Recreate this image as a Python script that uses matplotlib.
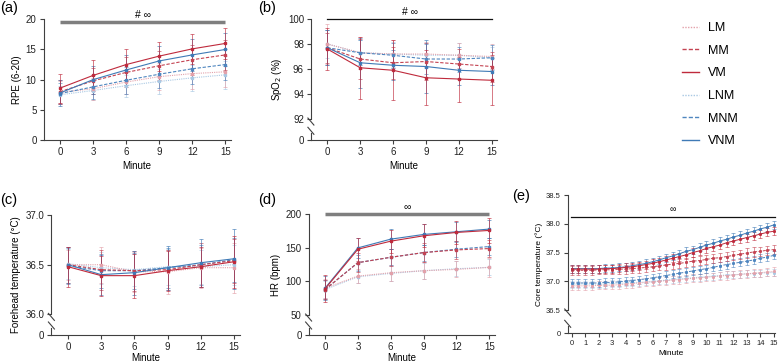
import numpy as np
import matplotlib
matplotlib.use("Agg")
import matplotlib.pyplot as plt
from matplotlib.lines import Line2D

plt.rcParams['font.family'] = ['Liberation Sans', 'DejaVu Sans']

# ---------------- data ----------------
groups = ["LM", "MM", "VM", "LNM", "MNM", "VNM"]
minutes = [0, 3, 6, 9, 12, 15]

rpe_mean = {
    "LM":  [7.9, 8.5, 9.6, 10.5, 11.0, 11.3],
    "MM":  [8.0, 9.8, 11.2, 12.3, 13.3, 14.1],
    "VM":  [8.6, 10.7, 12.5, 13.9, 15.1, 16.0],
    "LNM": [7.5, 8.2, 9.0, 9.7, 10.3, 10.8],
    "MNM": [7.7, 8.8, 9.9, 10.9, 11.8, 12.5],
    "VNM": [7.8, 10.0, 11.6, 13.1, 14.1, 15.0],
}
rpe_sd = {
    "LM":  [1.8, 1.8, 2.0, 2.2, 2.5, 2.6],
    "MM":  [2.0, 2.2, 2.5, 2.4, 2.5, 2.5],
    "VM":  [2.4, 2.5, 2.6, 2.4, 2.5, 2.5],
    "LNM": [1.5, 1.6, 1.8, 2.0, 2.2, 2.3],
    "MNM": [1.8, 2.0, 2.2, 2.3, 2.5, 2.5],
    "VNM": [2.2, 2.3, 2.5, 2.5, 2.7, 2.8],
}

spo2_mean = {
    "LM":  [98.0, 97.3, 97.2, 97.2, 97.1, 97.0],
    "MM":  [97.7, 96.8, 96.5, 96.6, 96.4, 96.2],
    "VM":  [97.6, 96.1, 95.9, 95.3, 95.2, 95.1],
    "LNM": [98.0, 97.3, 97.2, 97.1, 97.1, 96.9],
    "MNM": [97.7, 97.3, 97.1, 96.8, 96.8, 96.9],
    "VNM": [97.7, 96.5, 96.3, 96.2, 95.9, 95.8],
}
spo2_sd = {
    "LM":  [1.6, 1.3, 1.1, 1.0, 1.0, 1.0],
    "MM":  [1.2, 1.6, 1.3, 1.5, 1.2, 1.2],
    "VM":  [1.7, 2.5, 2.4, 2.2, 1.8, 2.0],
    "LNM": [1.1, 1.0, 1.0, 1.0, 1.0, 0.9],
    "MNM": [1.4, 1.0, 1.0, 1.2, 1.0, 1.0],
    "VNM": [1.4, 2.0, 1.2, 2.1, 1.2, 1.1],
}

fore_mean = {
    "LM":  [36.50, 36.50, 36.43, 36.43, 36.47, 36.47],
    "MM":  [36.50, 36.45, 36.44, 36.45, 36.50, 36.54],
    "VM":  [36.48, 36.39, 36.39, 36.44, 36.48, 36.53],
    "LNM": [36.51, 36.47, 36.45, 36.48, 36.48, 36.50],
    "MNM": [36.49, 36.44, 36.44, 36.47, 36.50, 36.55],
    "VNM": [36.50, 36.40, 36.42, 36.47, 36.52, 36.56],
}
fore_sd = {
    "LM":  [0.15, 0.18, 0.20, 0.22, 0.20, 0.25],
    "MM":  [0.18, 0.20, 0.20, 0.20, 0.22, 0.22],
    "VM":  [0.20, 0.20, 0.22, 0.20, 0.20, 0.26],
    "LNM": [0.15, 0.16, 0.16, 0.18, 0.17, 0.20],
    "MNM": [0.18, 0.17, 0.18, 0.20, 0.20, 0.22],
    "VNM": [0.18, 0.20, 0.22, 0.22, 0.24, 0.30],
}

hr_mean = {
    "LM":  [90, 108, 113, 116, 118, 121],
    "MM":  [88, 128, 136, 143, 147, 149],
    "VM":  [89, 148, 160, 168, 173, 176],
    "LNM": [88, 107, 112, 116, 119, 121],
    "MNM": [88, 128, 136, 143, 148, 152],
    "VNM": [90, 150, 163, 170, 174, 178],
}
hr_sd = {
    "LM":  [14, 11, 12, 13, 12, 14],
    "MM":  [14, 14, 13, 14, 13, 12],
    "VM":  [20, 17, 17, 17, 17, 18],
    "LNM": [12, 10, 11, 12, 11, 12],
    "MNM": [14, 12, 12, 12, 12, 12],
    "VNM": [18, 15, 15, 15, 15, 14],
}

core_minutes = [0, 0.5, 1, 1.5, 2, 2.5, 3, 3.5, 4, 4.5, 5, 5.5, 6, 6.5, 7, 7.5,
                8, 8.5, 9, 9.5, 10, 10.5, 11, 11.5, 12, 12.5, 13, 13.5, 14, 14.5, 15]
core_mean = {
    "LM":  [36.92, 36.92, 36.92, 36.92, 36.93, 36.93, 36.93, 36.94, 36.95, 36.96, 36.97,
            36.98, 36.99, 37.00, 37.01, 37.02, 37.03, 37.04, 37.05, 37.06, 37.07, 37.08,
            37.09, 37.10, 37.11, 37.12, 37.13, 37.14, 37.15, 37.16, 37.17],
    "MM":  [37.19, 37.19, 37.19, 37.19, 37.20, 37.20, 37.20, 37.21, 37.21, 37.22, 37.23,
            37.24, 37.25, 37.27, 37.28, 37.30, 37.31, 37.33, 37.35, 37.36, 37.38, 37.40,
            37.41, 37.43, 37.45, 37.47, 37.49, 37.51, 37.52, 37.54, 37.55],
    "VM":  [37.21, 37.21, 37.21, 37.21, 37.21, 37.22, 37.22, 37.23, 37.24, 37.25, 37.27,
            37.29, 37.31, 37.34, 37.37, 37.40, 37.43, 37.46, 37.50, 37.53, 37.57, 37.60,
            37.63, 37.67, 37.70, 37.73, 37.76, 37.79, 37.82, 37.85, 37.87],
    "LNM": [36.95, 36.95, 36.95, 36.95, 36.95, 36.95, 36.96, 36.96, 36.97, 36.98, 36.98,
            36.99, 37.00, 37.01, 37.02, 37.03, 37.04, 37.05, 37.06, 37.07, 37.08, 37.09,
            37.10, 37.11, 37.11, 37.12, 37.13, 37.13, 37.14, 37.15, 37.15],
    "MNM": [36.97, 36.97, 36.97, 36.97, 36.97, 36.98, 36.98, 36.99, 37.00, 37.01, 37.03,
            37.04, 37.06, 37.08, 37.10, 37.12, 37.14, 37.16, 37.18, 37.20, 37.22, 37.24,
            37.27, 37.29, 37.31, 37.33, 37.35, 37.37, 37.40, 37.42, 37.45],
    "VNM": [37.22, 37.22, 37.22, 37.22, 37.22, 37.23, 37.23, 37.24, 37.25, 37.27, 37.29,
            37.31, 37.34, 37.37, 37.41, 37.44, 37.48, 37.52, 37.55, 37.59, 37.63, 37.66,
            37.70, 37.73, 37.77, 37.80, 37.84, 37.87, 37.91, 37.94, 37.98],
}
core_sd = {"LM": 0.07, "MM": 0.08, "VM": 0.07, "LNM": 0.06, "MNM": 0.07, "VNM": 0.07}

# ---------------- styles ----------------
colors = {"LM": "#e3a1aa", "MM": "#c44352", "VM": "#bf2a3c",
          "LNM": "#a9c8e3", "MNM": "#4f86bf", "VNM": "#3f7ab6"}
styles = {"LM": (0, (1, 1)), "MM": (0, (3, 1.5)), "VM": "-",
          "LNM": (0, (1, 1)), "MNM": (0, (3, 1.5)), "VNM": "-"}
draw_order = ["LNM", "LM", "MNM", "MM", "VNM", "VM"]
AXC = "#404040"
FS = 7

W, H = 778, 364
fig = plt.figure(figsize=(W / 100, H / 100), dpi=100)


def rect(left, top, width, bottom):
    return [left / W, (H - bottom) / H, width / W, (bottom - top) / H]


def brk(lo, g):
    def fwd(y):
        y = np.asarray(y, dtype=float)
        return np.where(y >= lo, y - lo + g, y * g / lo)

    def inv(t):
        t = np.asarray(t, dtype=float)
        return np.where(t >= g, t - g + lo, t * lo / g)
    return fwd, inv


def style_ax(ax, fs=FS):
    for s in ["top", "right"]:
        ax.spines[s].set_visible(False)
    for s in ["left", "bottom"]:
        ax.spines[s].set_color(AXC)
        ax.spines[s].set_linewidth(0.8)
    ax.tick_params(axis="both", colors=AXC, labelcolor="#222222", labelsize=fs,
                   length=3, width=0.8, pad=2)


def plot_series(ax, x, means, sds, ms=1.5, lw=0.8, cap=1.5, elw=0.55):
    handles = {}
    for gname in draw_order:
        m = np.array(means[gname], dtype=float)
        sd = sds[gname]
        sd = np.full_like(m, sd) if np.isscalar(sd) else np.array(sd, dtype=float)
        ax.errorbar(x, m, yerr=sd, fmt="none", ecolor=colors[gname], elinewidth=elw,
                    capsize=cap, capthick=elw, alpha=0.8, clip_on=False, zorder=2)
        ln, = ax.plot(x, m, color=colors[gname], linestyle=styles[gname], lw=lw,
                      marker="s", ms=ms, mec=colors[gname], mfc=colors[gname],
                      clip_on=False, zorder=3)
        handles[gname] = ln
    return handles


def draw_break(ax, lo, top, r):
    wpx = r[2] * W
    hpx = r[3] * H
    ax.spines["left"].set_bounds(lo, top)
    ylo = ax.transAxes.inverted().transform(ax.transData.transform((0, lo)))[1]
    kw = dict(transform=ax.transAxes, color=AXC, lw=0.8, clip_on=False)
    seg = 7.0
    ax.plot([0, 0], [0, seg / hpx], **kw)
    ax.plot([-3 / wpx, 3 / wpx], [ylo + 1 / hpx, ylo - 6 / hpx], **kw)
    ax.plot([-3 / wpx, 3 / wpx], [(seg + 6) / hpx, (seg - 1) / hpx], **kw)


# ---------------- (a) RPE ----------------
ra = rect(43.5, 19.3, 187.3, 140)
axa = fig.add_axes(ra)
style_ax(axa)
axa.set_xlim(-1.5, 15.5)
axa.set_ylim(0, 20)
axa.set_yticks([0, 5, 10, 15, 20])
axa.set_xticks(minutes)
plot_series(axa, minutes, rpe_mean, rpe_sd)
axa.plot([0, 15], [19.55, 19.55], color="#7f7f7f", lw=2.5, clip_on=False, solid_capstyle="butt")
axa.text(7.5, 19.85, "# \u221e", ha="center", va="bottom", fontsize=7.5)
axa.set_ylabel("RPE (6-20)", fontsize=FS, labelpad=3)
axa.set_xlabel("Minute", fontsize=FS, labelpad=3)

# ---------------- (b) SpO2 ----------------
rb = rect(310.9, 19, 186.3, 140.3)
axb = fig.add_axes(rb)
style_ax(axb)
axb.set_yscale("function", functions=brk(92, 1.70))
axb.set_xlim(-1.5, 15.5)
axb.set_ylim(0, 100)
axb.set_yticks([0, 92, 94, 96, 98, 100])
axb.set_yticklabels(["0", "92", "94", "96", "98", "100"])
axb.set_xticks(minutes)
plot_series(axb, minutes, spo2_mean, spo2_sd)
axb.plot([0, 15], [100, 100], color="#111111", lw=0.9, clip_on=False)
axb.text(7.5, 100.15, "# \u221e", ha="center", va="bottom", fontsize=7.5)
axb.set_ylabel("SpO$_2$ (%)", fontsize=FS, labelpad=3)
axb.set_xlabel("Minute", fontsize=FS, labelpad=3)
draw_break(axb, 92, 100, rb)

# ---------------- (c) forehead ----------------
rc = rect(51.4, 215, 188.2, 335)
axc = fig.add_axes(rc)
style_ax(axc)
axc.set_yscale("function", functions=brk(36.0, 0.207))
axc.set_xlim(-1.5, 15.5)
axc.set_ylim(0, 37.0)
axc.set_yticks([0, 36.0, 36.5, 37.0])
axc.set_yticklabels(["0", "36.0", "36.5", "37.0"])
axc.set_xticks(minutes)
plot_series(axc, minutes, fore_mean, fore_sd)
axc.set_ylabel("Forehead temperature (\u00b0C)", fontsize=FS, labelpad=3)
axc.set_xlabel("Minute", fontsize=FS, labelpad=1)
draw_break(axc, 36.0, 37.0, rc)

# ---------------- (d) HR ----------------
rd = rect(308.6, 214.3, 186.2, 335)
axd = fig.add_axes(rd)
style_ax(axd)
axd.set_yscale("function", functions=brk(50, 29.7))
axd.set_xlim(-1.5, 15.5)
axd.set_ylim(0, 200)
axd.set_yticks([0, 50, 100, 150, 200])
axd.set_yticklabels(["0", "50", "100", "150", "200"])
axd.set_xticks(minutes)
plot_series(axd, minutes, hr_mean, hr_sd)
axd.plot([0, 15], [200, 200], color="#7f7f7f", lw=2.5, clip_on=False, solid_capstyle="butt")
axd.text(7.5, 203, "\u221e", ha="center", va="bottom", fontsize=7.5)
axd.set_ylabel("HR (bpm)", fontsize=FS, labelpad=3)
axd.set_xlabel("Minute", fontsize=FS, labelpad=1)
draw_break(axd, 50, 200, rd)

# ---------------- (e) core ----------------
re = rect(567.7, 195, 207.4, 333.3)
axe = fig.add_axes(re)
style_ax(axe, fs=5.5)
axe.set_yscale("function", functions=brk(36.5, 0.405))
axe.set_xlim(-0.3, 15.1)
axe.set_ylim(0, 38.5)
axe.set_yticks([0, 36.5, 37.0, 37.5, 38.0, 38.5])
axe.set_yticklabels(["0", "36.5", "37.0", "37.5", "38.0", "38.5"])
axe.set_xticks(list(range(16)))
plot_series(axe, core_minutes, core_mean, core_sd, ms=1.1, lw=0.7, cap=1.2, elw=0.5)
axe.plot([-0.05, 15.1], [38.12, 38.12], color="#111111", lw=0.9, clip_on=False)
axe.text(7.5, 38.17, "\u221e", ha="center", va="bottom", fontsize=6.5)
axe.set_ylabel("Core temperature (\u00b0C)", fontsize=6, labelpad=2)
axe.set_xlabel("Minute", fontsize=6, labelpad=2)
draw_break(axe, 36.5, 38.5, re)

# ---------------- panel labels ----------------
for lab, (px, py) in {"(a)": (0, 8), "(b)": (258, 8), "(c)": (0, 200),
                      "(d)": (258, 200), "(e)": (512, 196)}.items():
    fig.text(px / W, 1 - py / H, lab, fontsize=10.5, ha="left", va="center")

# ---------------- legend ----------------
leg_handles = [Line2D([0], [0], color=colors[g], linestyle=styles[g], lw=1.0) for g in groups]
fig.legend(leg_handles, groups, loc="upper left", bbox_to_anchor=(677 / W, 1 - 17 / H),
           frameon=False, fontsize=9, handlelength=1.35, handletextpad=0.7,
           labelspacing=0.85, borderaxespad=0)

fig.savefig("out.png", dpi=100)
